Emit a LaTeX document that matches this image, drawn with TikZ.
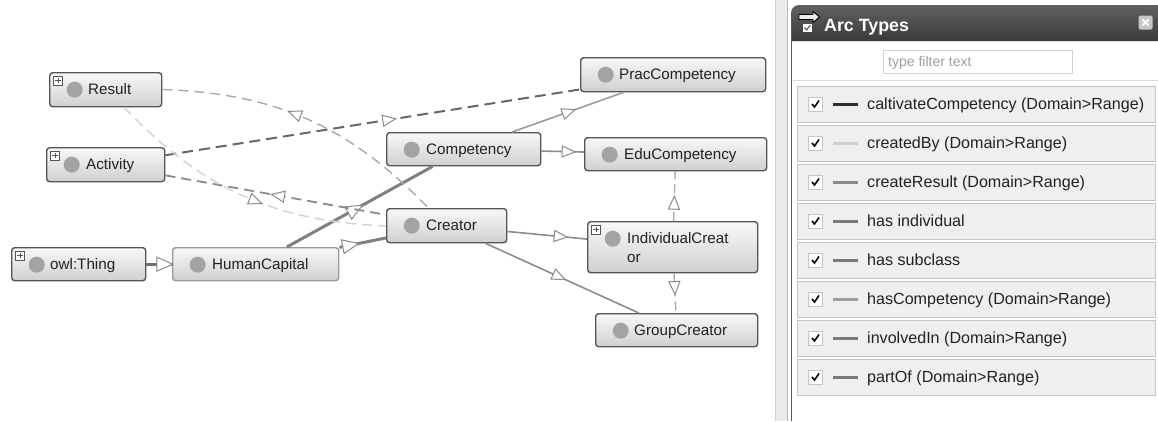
\documentclass[tikz,border=0pt]{standalone}
\usepackage{fontspec}
\setmainfont{Liberation Sans}
\usetikzlibrary{decorations.markings}
\definecolor{nborder}{HTML}{555555}
\definecolor{nborderlt}{HTML}{9A9A9A}
\definecolor{ntop}{HTML}{F8F8F8}
\definecolor{nbot}{HTML}{D0D0D0}
\definecolor{dotc}{HTML}{A3A3A3}
\definecolor{txtc}{HTML}{222222}
\definecolor{arrowc}{HTML}{8A8A8A}
\definecolor{ecA}{HTML}{707070}
\definecolor{ecB}{HTML}{808080}
\definecolor{ecC}{HTML}{9C9C9C}
\definecolor{ecD}{HTML}{8C8C8C}
\definecolor{ecDash}{HTML}{ABABAB}
\definecolor{ecCult}{HTML}{676767}
\definecolor{ecInv}{HTML}{8A8A8A}
\definecolor{ecRes}{HTML}{A8A8A8}
\definecolor{ecBy}{HTML}{D4D4D4}
\definecolor{stripc}{HTML}{EAEAEA}
\definecolor{hdtop}{HTML}{606060}
\definecolor{hdbot}{HTML}{3A3A3A}
\definecolor{panelb}{HTML}{5A5A5A}
\definecolor{rowfill}{HTML}{EFEFEF}
\definecolor{rowdraw}{HTML}{C4C4C4}
\definecolor{lc1}{HTML}{2E2E2E}
\definecolor{lc2}{HTML}{CFCFCF}
\definecolor{lc3}{HTML}{8A8A8A}
\definecolor{lc4}{HTML}{7A7A7A}
\definecolor{lc6}{HTML}{9C9C9C}
\begin{document}
\begin{tikzpicture}[x=1pt,y=-1pt,
  cls/.style={draw=nborder, line width=1.4pt, rounded corners=3pt, top color=ntop, bottom color=nbot,
    inner sep=0pt, minimum height=34pt, anchor=north west,
    path picture={\fill[dotc] ([xshift=25pt,yshift=-17pt]path picture bounding box.north west) circle (8pt);}},
  lbl/.style={font=\fontsize{15.2}{19}\selectfont, text=txtc, inner sep=0pt, anchor=base west, align=left},
  plusbox/.style={draw=nborder, fill=white, line width=0.7pt, minimum size=9pt, inner sep=0pt,
    path picture={\draw[line width=0.9pt] ([xshift=-2.8pt]path picture bounding box.center) -- ([xshift=2.8pt]path picture bounding box.center)
      ([yshift=-2.8pt]path picture bounding box.center) -- ([yshift=2.8pt]path picture bounding box.center);}},
  fwd/.style={postaction={decorate}, decoration={markings, mark=at position #1 with
    {\draw[solid, line width=1pt, draw=arrowc, fill=white] (-6.5pt,-5.5pt) -- (6.5pt,0pt) -- (-6.5pt,5.5pt) -- cycle;}}},
  bwd/.style={postaction={decorate}, decoration={markings, mark=at position #1 with
    {\draw[solid, line width=1pt, draw=arrowc, fill=white] (6.5pt,-5.5pt) -- (-6.5pt,0pt) -- (6.5pt,5.5pt) -- cycle;}}},
  bigfwd/.style={postaction={decorate}, decoration={markings, mark=at position #1 with
    {\draw[solid, line width=1pt, draw=arrowc, fill=white] (-8pt,-7pt) -- (8pt,0pt) -- (-8pt,7pt) -- cycle;}}},
  thickedge/.style={line width=3pt},
  thinedge/.style={line width=1.6pt},
  dashedge/.style={line width=1.4pt, dash pattern=on 9pt off 5pt},
  rowbox/.style={draw=rowdraw, fill=rowfill, line width=0.8pt, minimum width=358pt, minimum height=36pt, inner sep=0pt, anchor=north west},
  chk/.style={draw=gray!45, fill=white, line width=0.7pt, minimum size=14pt, inner sep=0pt},
  rowtxt/.style={font=\fontsize{16.1}{18}\selectfont, text=txtc, inner sep=0pt, anchor=base west}
]
\useasboundingbox[fill=white] (0,0) rectangle (1158,421);

% ---------- right panel ----------
\fill[stripc] (775,0) rectangle (787,421);
\draw[gray!35, line width=0.8pt] (775,0) -- (775,421);
\draw[gray!55, line width=0.8pt] (787,0) -- (787,421);
\shade[top color=hdtop, bottom color=hdbot] (791,41) [rounded corners=8pt] -- (791,5) [sharp corners] -- (1158,5) -- (1158,41) -- cycle;
\draw[panelb, line width=1.4pt] (791.7,20) -- (791.7,421);
% header icon
\draw[black, fill=gray!15, line width=0.9pt] (799,14.5) -- (813,14.5) -- (813,11.5) -- (819.5,17) -- (813,22.5) -- (813,19.5) -- (799,19.5) -- cycle;
\fill[white] (803,23.5) rectangle (811.5,32);
\draw[black!75, line width=0.9pt] (804.5,27.5) -- (806.7,30) -- (810.2,25);
\node[font=\bfseries\fontsize{17.8}{20}\selectfont, text=white, anchor=base west, inner sep=0pt] (title) at (824,31) {Arc Types};
\node[fill=gray!45, rounded corners=1.5pt, minimum size=14pt, inner sep=0pt] (closeb) at (1145.5,22.5) {};
\draw[white, line width=2pt] ([xshift=-3pt,yshift=-3pt]closeb.center) -- ([xshift=3pt,yshift=3pt]closeb.center)
  ([xshift=-3pt,yshift=3pt]closeb.center) -- ([xshift=3pt,yshift=-3pt]closeb.center);
% filter box
\node[draw=gray!35, line width=0.8pt, fill=white, minimum width=189pt, minimum height=23pt, anchor=north west, inner sep=0pt] (filter) at (883,50) {};
\node[font=\fontsize{14}{16}\selectfont, text=gray!75, anchor=base west, inner sep=0pt] (filtertxt) at (888,66.5) {type filter text};
\draw[gray!30, line width=0.8pt] (792.5,80) -- (1158,80);
% rows
\foreach \i/\c/\t in {0/lc1/{caltivateCompetency (Domain>Range)},
                      1/lc2/{createdBy (Domain>Range)},
                      2/lc3/{createResult (Domain>Range)},
                      3/lc4/{has individual},
                      4/lc4/{has subclass},
                      5/lc6/{hasCompetency (Domain>Range)},
                      6/lc4/{involvedIn (Domain>Range)},
                      7/lc4/{partOf (Domain>Range)}}{
  \node[rowbox] (row\i) at (797,{86+39*\i}) {};
  \node[chk] (chk\i) at (815.5,{104+39*\i}) {};
  \draw[black, line width=1.6pt] ([xshift=-3.5pt]chk\i.center) -- ([xshift=-1pt,yshift=-3pt]chk\i.center) -- ([xshift=3.5pt,yshift=3.5pt]chk\i.center);
  \draw[\c, line width=3pt] (833,{104+39*\i}) -- (858,{104+39*\i});
  \node[rowtxt] (txt\i) at (867,{109.8+39*\i}) {\t};
}

% ---------- graph nodes ----------
\node[cls, minimum width=112pt] (result) at (49,72) {};
\node[cls, minimum width=118pt] (activity) at (46,147) {};
\node[cls, minimum width=134pt, minimum height=33pt] (thing) at (11,247) {};
\node[cls, draw=nborderlt, minimum width=166pt, minimum height=33pt] (hc) at (172,247) {};
\node[cls, minimum width=154pt, minimum height=33pt] (comp) at (386,132) {};
\node[cls, minimum width=120pt] (creator) at (386,208) {};
\node[cls, minimum width=185pt] (prac) at (580,57) {};
\node[cls, minimum width=182pt, minimum height=33pt] (edu) at (584,137) {};
\node[cls, minimum width=170pt, minimum height=51pt] (ic) at (587,221) {};
\node[cls, minimum width=162pt, minimum height=33pt] (gc) at (595,313) {};

\node[lbl] (resultT) at ([xshift=39pt,yshift=-22.4pt]result.north west) {Result};
\node[lbl] (activityT) at ([xshift=40pt,yshift=-22.4pt]activity.north west) {Activity};
\node[lbl] (thingT) at ([xshift=39pt,yshift=-22pt]thing.north west) {owl:Thing};
\node[lbl] (hcT) at ([xshift=40pt,yshift=-22pt]hc.north west) {HumanCapital};
\node[lbl] (compT) at ([xshift=40pt,yshift=-22pt]comp.north west) {Competency};
\node[lbl] (creatorT) at ([xshift=40pt,yshift=-22.4pt]creator.north west) {Creator};
\node[lbl] (pracT) at ([xshift=39pt,yshift=-22.4pt]prac.north west) {PracCompetency};
\node[lbl] (eduT) at ([xshift=40pt,yshift=-22pt]edu.north west) {EduCompetency};
\node[lbl] (icT) at ([xshift=40pt,yshift=-41.6pt]ic.north west) {IndividualCreat\\or};
\node[lbl] (gcT) at ([xshift=39pt,yshift=-22pt]gc.north west) {GroupCreator};

\node[plusbox] (resultP) at ([xshift=9pt,yshift=-8.5pt]result.north west) {};
\node[plusbox] (activityP) at ([xshift=9pt,yshift=-8.5pt]activity.north west) {};
\node[plusbox] (thingP) at ([xshift=9pt,yshift=-8.5pt]thing.north west) {};
\node[plusbox] (icP) at ([xshift=9pt,yshift=-8.5pt]ic.north west) {};

% ---------- connectors ----------
\draw[thickedge, draw=ecA, bigfwd=0.72] (thing) -- (hc);
\draw[thickedge, draw=ecB, bigfwd=0.47] (hc) -- (comp);
\draw[thickedge, draw=ecB, bigfwd=0.24] (hc) -- (creator);
\draw[thinedge, draw=ecC, fwd=0.51] (comp) -- (prac);
\draw[thinedge, draw=ecD, fwd=0.64] (comp) -- (edu);
\draw[thinedge, draw=ecD, fwd=0.67] (creator) -- (ic);
\draw[thinedge, draw=ecD, fwd=0.48] (creator) -- (gc);
\draw[dashedge, draw=ecDash, fwd=0.37] (ic) -- (edu);
\draw[dashedge, draw=ecDash, fwd=0.37] (ic) -- (gc);
\draw[line width=2pt, dash pattern=on 11pt off 6pt, draw=ecCult, fwd=0.54] (activity) -- (prac);
\draw[line width=1.8pt, dash pattern=on 10pt off 6pt, draw=ecInv, bwd=0.51] (activity) -- (creator);
\draw[line width=1.4pt, dash pattern=on 10pt off 6pt, draw=ecRes, bwd=0.45] (result) to[bend left=22] (creator);
\draw[line width=1.5pt, dash pattern=on 10pt off 6pt, draw=ecBy, fwd=0.55] (result) to[bend right=22] (creator);
\end{tikzpicture}
\end{document}
